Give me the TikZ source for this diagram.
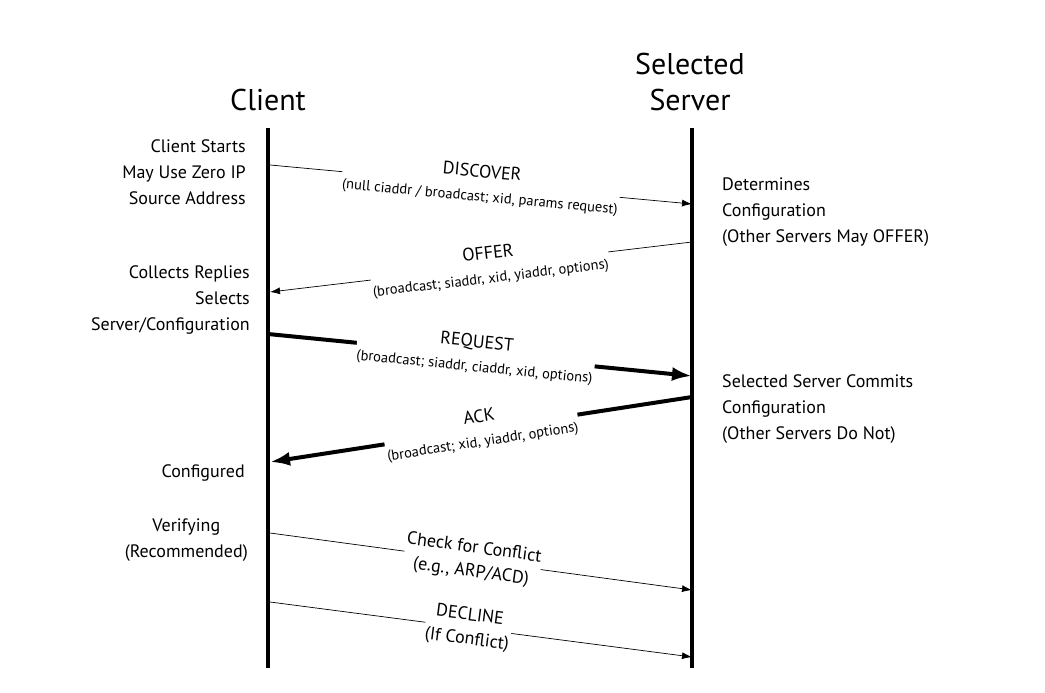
\documentclass[tikz,border=0pt]{standalone}
\usepackage{fontspec}
\setmainfont{PT Sans}
\usetikzlibrary{arrows.meta}
\begin{document}
\begin{tikzpicture}[x=1pt,y=-1pt,
  life/.style={line width=4.5pt},
  thinmsg/.style={line width=0.7pt,-{Latex[length=10pt,width=7pt]}},
  thickmsg/.style={line width=4pt,-{Latex[length=20pt,width=14pt]}},
  lbl/.style={midway,sloped,fill=white,align=center,inner sep=1pt,font=\fontsize{18}{24}\selectfont},
  side/.style={font=\fontsize{18}{26}\selectfont,inner sep=0pt},
  title/.style={font=\fontsize{30}{36}\selectfont}]
\useasboundingbox (0,0) rectangle (1045,693);
\node[title] (tc) at (268,100) {Client};
\node[title,align=center] (ts) at (690,82) {Selected\\Server};
\coordinate (ct) at (268,128); \coordinate (cb) at (268,668);
\coordinate (st) at (692,128); \coordinate (sb) at (692,668);
\draw[life] (ct) -- (cb);
\draw[life] (st) -- (sb);
% left labels
\node[side,anchor=east,align=right] (l1) at (246,172) {Client Starts\\May Use Zero IP\\Source Address};
\node[side,anchor=east,align=right] (l2) at (250,300) {Collects Replies\\Selects\\Server/Configuration};
\node[side,anchor=east] (l3) at (245,473) {Configured};
\node[side,anchor=east,align=center] (l4) at (248,540) {Verifying\\(Recommended)};
% right labels
\node[side,anchor=west,align=left] (r1) at (722,212) {Determines\\Configuration\\(Other Servers May OFFER)};
\node[side,anchor=west,align=left] (r2) at (722,409) {Selected Server Commits\\Configuration\\(Other Servers Do Not)};
% messages
\coordinate (d1) at (270,165); \coordinate (d2) at (692,204);
\draw[thinmsg] (d1) -- node[lbl] (m1) {DISCOVER\\{\fontsize{14.5}{18}\selectfont(null ciaddr / broadcast; xid, params request)}} (d2);
\coordinate (o1) at (692,242); \coordinate (o2) at (270,292);
\draw[thinmsg] (o1) -- node[lbl,pos=0.48] (m2) {OFFER\\{\fontsize{14.5}{18}\selectfont(broadcast; siaddr, xid, yiaddr, options)}} (o2);
\coordinate (q1) at (268,334); \coordinate (q2) at (692,376);
\draw[thickmsg] (q1) -- node[lbl,pos=0.49] (m3) {REQUEST\\{\fontsize{14.5}{18}\selectfont(broadcast; siaddr, ciaddr, xid, options)}} (q2);
\coordinate (a1) at (692,397); \coordinate (a2) at (270,462);
\draw[thickmsg] (a1) -- node[lbl,pos=0.5] (m4) {ACK\\{\fontsize{14.5}{18}\selectfont(broadcast; xid, yiaddr, options)}} (a2);
\coordinate (k1) at (270,533); \coordinate (k2) at (692,590);
\draw[thinmsg] (k1) -- node[lbl,pos=0.48] (m5) {Check for Conflict\\(e.g., ARP/ACD)} (k2);
\coordinate (e1) at (270,602); \coordinate (e2) at (692,657);
\draw[thinmsg] (e1) -- node[lbl,pos=0.47] (m6) {DECLINE\\(If Conflict)} (e2);
\end{tikzpicture}
\end{document}
